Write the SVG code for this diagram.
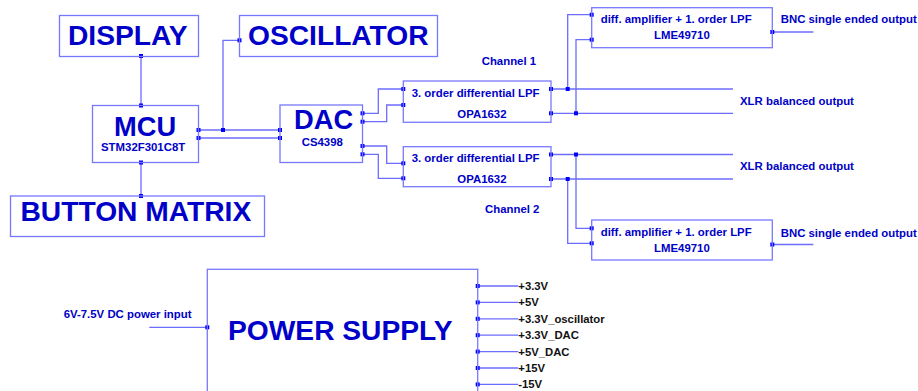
<svg xmlns="http://www.w3.org/2000/svg" width="918" height="391" viewBox="0 0 918 391">
<style>
.box{fill:none;stroke:#7878ff;stroke-width:1.3}
.w{fill:none;stroke:#6c6cff;stroke-width:1.3}
.pin{fill:#0000ff}
text{font-family:"Liberation Sans",Arial,sans-serif;font-weight:bold;fill:#0000c8}
.big{font-size:28.2px}
.mid{font-size:27.3px}
.sm{font-size:11.4px}
.pw{font-size:11.3px;fill:#111}
</style>
<defs>
<rect id="p" x="-2" y="-2" width="4" height="4" class="pin"/>
</defs>

<g id="connectors">
<path class="w" d="M141,56 V105.5 M141,162.5 V196"/>
<path class="w" d="M198.5,130 H280 M198.5,138 H280 M223,130 V40.3 H239.5"/>
<path class="w" d="M362.5,113.3 H378.3 V89 H403.3 M362.5,121.7 H386.7 V105 H403.3"/>
<path class="w" d="M362.5,146 H386.7 V163.3 H403.3 M362.5,154.3 H378.3 V178.3 H403.3"/>
<path class="w" d="M551,89 H733 M551,113.3 H733 M567.7,89 V14.7 H591.7 M576,113.3 V39.7 H591.7"/>
<path class="w" d="M551,154.5 H733 M551,179 H733 M576,154.5 V228.3 H591.7 M567.7,179 V243.3 H591.7"/>
<path class="w" d="M772.3,32 H813.3 M772.3,244.5 H813.3"/>
<path class="w" d="M149.3,327.3 H207.3"/>
<path class="w" d="M477.7,286 H518.3 M477.7,302.4 H518.3 M477.7,318.8 H518.3 M477.7,335.2 H518.3 M477.7,351.6 H518.3 M477.7,368 H518.3 M477.7,384.4 H518.3"/>
<g>
<use href="#p" x="141" y="56"/><use href="#p" x="141" y="105.5"/><use href="#p" x="141" y="162.5"/><use href="#p" x="141" y="196"/>
<use href="#p" x="198.5" y="130"/><use href="#p" x="198.5" y="138"/><use href="#p" x="223" y="130"/><use href="#p" x="239.5" y="40.3"/>
<use href="#p" x="280" y="130"/><use href="#p" x="280" y="138"/>
<use href="#p" x="362.5" y="113.3"/><use href="#p" x="362.5" y="121.7"/><use href="#p" x="362.5" y="146"/><use href="#p" x="362.5" y="154.3"/>
<use href="#p" x="403.3" y="89"/><use href="#p" x="403.3" y="105"/><use href="#p" x="403.3" y="163.3"/><use href="#p" x="403.3" y="178.3"/>
<use href="#p" x="551" y="89"/><use href="#p" x="551" y="113.3"/><use href="#p" x="551" y="154.5"/><use href="#p" x="551" y="179"/>
<use href="#p" x="567.7" y="89"/><use href="#p" x="576" y="113.3"/><use href="#p" x="576" y="154.5"/><use href="#p" x="567.7" y="179"/>
<use href="#p" x="591.7" y="14.7"/><use href="#p" x="591.7" y="39.7"/><use href="#p" x="591.7" y="228.3"/><use href="#p" x="591.7" y="243.3"/>
<use href="#p" x="772.3" y="32"/><use href="#p" x="772.3" y="244.5"/>
<use href="#p" x="207.3" y="327.3"/>
<use href="#p" x="477.7" y="286"/><use href="#p" x="477.7" y="302.4"/><use href="#p" x="477.7" y="318.8"/><use href="#p" x="477.7" y="335.2"/><use href="#p" x="477.7" y="351.6"/><use href="#p" x="477.7" y="368"/><use href="#p" x="477.7" y="384.4"/>
</g>
</g>

<g id="display">
<rect class="box" x="59.5" y="15.5" width="139" height="41"/>
<text class="big" x="68" y="45">DISPLAY</text>
</g>
<g id="oscillator">
<rect class="box" x="239.5" y="15.5" width="198" height="41"/>
<text class="big" x="248" y="45">OSCILLATOR</text>
</g>
<g id="mcu">
<rect class="box" x="92.5" y="105.5" width="106" height="57"/>
<text class="mid" x="114" y="136">MCU</text>
<text class="sm" x="101" y="150.5">STM32F301C8T</text>
</g>
<g id="button-matrix">
<rect class="box" x="10.5" y="196" width="254" height="40.5"/>
<text class="big" x="20.5" y="220.7">BUTTON MATRIX</text>
</g>
<g id="dac">
<rect class="box" x="280" y="105" width="82.5" height="57.5"/>
<text class="mid" x="294" y="129.3">DAC</text>
<text class="sm" x="301.7" y="146">CS4398</text>
</g>
<g id="lpf1">
<rect class="box" x="403.3" y="81" width="147.7" height="41.3"/>
<text class="sm" x="411.7" y="96.7">3. order differential LPF</text>
<text class="sm" x="457.3" y="117.7">OPA1632</text>
</g>
<g id="lpf2">
<rect class="box" x="403.3" y="146.7" width="147.7" height="40"/>
<text class="sm" x="411.7" y="162.3">3. order differential LPF</text>
<text class="sm" x="457.3" y="183.3">OPA1632</text>
</g>
<g id="labels">
<text class="sm" x="481.7" y="65">Channel 1</text>
<text class="sm" x="485" y="212.7">Channel 2</text>
<text class="sm" x="740" y="105">XLR balanced output</text>
<text class="sm" x="740" y="170">XLR balanced output</text>
<text class="sm" x="780.7" y="23.3">BNC single ended output</text>
<text class="sm" x="780.7" y="236.7">BNC single ended output</text>
<text class="sm" x="63.7" y="318.3">6V-7.5V DC power input</text>
</g>
<g id="bnc1">
<rect class="box" x="591.7" y="7.7" width="180.6" height="40"/>
<text class="sm" x="600.7" y="22.7">diff. amplifier + 1. order LPF</text>
<text class="sm" x="654" y="39.3">LME49710</text>
</g>
<g id="bnc2">
<rect class="box" x="591.7" y="220" width="180.6" height="40"/>
<text class="sm" x="600.7" y="236">diff. amplifier + 1. order LPF</text>
<text class="sm" x="654" y="251.7">LME49710</text>
</g>
<g id="power-supply">
<rect class="box" x="207.3" y="269.3" width="270.4" height="140"/>
<text class="big" x="228" y="340">POWER SUPPLY</text>
<text class="pw" x="518.3" y="290">+3.3V</text>
<text class="pw" x="518.3" y="306.4">+5V</text>
<text class="pw" x="518.3" y="322.8">+3.3V_oscillator</text>
<text class="pw" x="518.3" y="339.2">+3.3V_DAC</text>
<text class="pw" x="518.3" y="355.6">+5V_DAC</text>
<text class="pw" x="518.3" y="372">+15V</text>
<text class="pw" x="518.3" y="388.4">-15V</text>
</g>
</svg>
